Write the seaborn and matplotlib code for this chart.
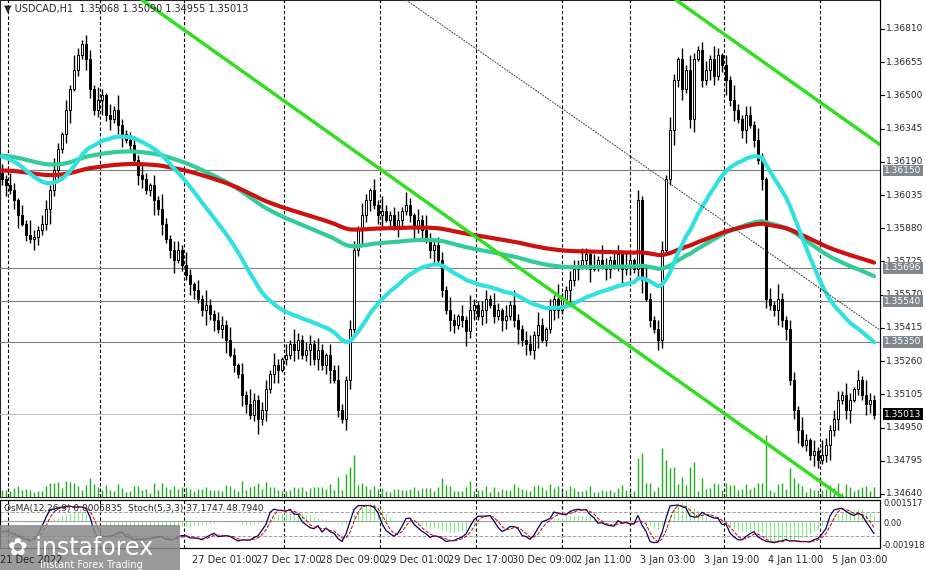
import numpy as np
import pandas as pd
import matplotlib
matplotlib.use("Agg")
import matplotlib.pyplot as plt
import seaborn as sns

# hourly closes (USDCAD H1)
closes = [
    1.3611, 1.3608, 1.3606, 1.3601, 1.3594, 1.3590, 1.3585, 1.3583, 1.3584, 1.3587,
    1.3590, 1.3597, 1.3606, 1.3615, 1.3625, 1.3632, 1.3643, 1.3653, 1.3662, 1.3669,
    1.3674, 1.3667, 1.3653, 1.3643, 1.3648, 1.3650, 1.3641, 1.3639, 1.3643, 1.3636,
    1.3632, 1.3629, 1.3627, 1.3620, 1.3613, 1.3611, 1.3606, 1.3608, 1.3601, 1.3597,
    1.3590, 1.3583, 1.3578, 1.3573, 1.3578, 1.3571, 1.3566, 1.3562, 1.3559, 1.3555,
    1.3550, 1.3552, 1.3548, 1.3545, 1.3541, 1.3543, 1.3536, 1.3529, 1.3524, 1.3520,
    1.3510, 1.3506, 1.3501, 1.3508, 1.3499, 1.3503, 1.3513, 1.3520, 1.3524, 1.3522,
    1.3527, 1.3529, 1.3534, 1.3531, 1.3536, 1.3529, 1.3531, 1.3534, 1.3527, 1.3531,
    1.3524, 1.3529, 1.3522, 1.3517, 1.3503, 1.3499, 1.3517, 1.3541, 1.3578, 1.3587,
    1.3594, 1.3601, 1.3606, 1.3599, 1.3594, 1.3596, 1.3592, 1.3594, 1.3589, 1.3592,
    1.3596, 1.3599, 1.3594, 1.3589, 1.3592, 1.3587, 1.3583, 1.3578, 1.3580, 1.3573,
    1.3559, 1.3550, 1.3545, 1.3543, 1.3547, 1.3545, 1.3540, 1.3550, 1.3552, 1.3547,
    1.3550, 1.3555, 1.3552, 1.3547, 1.3550, 1.3545, 1.3547, 1.3552, 1.3545, 1.3541,
    1.3536, 1.3534, 1.3531, 1.3538, 1.3543, 1.3536, 1.3541, 1.3550, 1.3555, 1.3550,
    1.3555, 1.3559, 1.3564, 1.3569, 1.3571, 1.3573, 1.3576, 1.3569, 1.3571, 1.3573,
    1.3571, 1.3569, 1.3573, 1.3571, 1.3576, 1.3569, 1.3571, 1.3573, 1.3569, 1.3601,
    1.3564, 1.3555, 1.3545, 1.3541, 1.3536, 1.3578, 1.3611, 1.3634, 1.3657, 1.3667,
    1.3653, 1.3662, 1.3639, 1.3667, 1.3671, 1.3657, 1.3662, 1.3667, 1.3659, 1.3669,
    1.3664, 1.3657, 1.3648, 1.3643, 1.3639, 1.3634, 1.3641, 1.3636, 1.3629, 1.3620,
    1.3611, 1.3555, 1.3552, 1.3550, 1.3555, 1.3545, 1.3541, 1.3517, 1.3503, 1.3494,
    1.3487, 1.3489, 1.3482, 1.3484, 1.3480, 1.3482, 1.3487, 1.3494, 1.3499, 1.3508,
    1.3510, 1.3503, 1.3508, 1.3513, 1.3517, 1.3510, 1.3506, 1.3508, 1.3501,
]
first_open = 1.3614
wick_up = [0.0004, 0.0002, 0.0006, 0.0003, 0.0001, 0.0005, 0.0002, 0.0007, 0.0003, 0.0002, 0.0004]
wick_dn = [0.0003, 0.0005, 0.0002, 0.0004, 0.0006, 0.0001, 0.0003, 0.0002, 0.0005, 0.0004, 0.0002, 0.0003, 0.0007]
# moving averages: (span, level before the visible window, colour)
ma_specs = [(150, 1.3622, "#33cc99"), (220, 1.3615, "#cc1111"), (40, 1.3622, "#33e0e0")]

hlines = [1.36150, 1.35696, 1.35540, 1.35350]
last_price = 1.35013
price_ticks = [1.36810, 1.36655, 1.36500, 1.36345, 1.36190, 1.36035, 1.35880, 1.35725,
               1.35570, 1.35415, 1.35260, 1.35105, 1.34950, 1.34795, 1.34640]
time_labels = ["27 Dec 01:00", "27 Dec 17:00", "28 Dec 09:00", "29 Dec 01:00", "29 Dec 17:00",
               "30 Dec 09:00", "2 Jan 11:00", "3 Jan 03:00", "3 Jan 19:00", "4 Jan 11:00", "5 Jan 03:00"]
time_label_bars = [47.5, 63.5, 79.5, 95.5, 111.5, 127.5, 143.5, 159.5, 175.5, 191.5, 207.5]
sep_bars = [1.5, 24.5, 45.5, 70.5, 94.5, 118.5, 140, 157, 180.5, 204.5]
# trend lines as (bar, price) pairs
channel_lines = [((35, 1.36945), (210, 1.34626)), ((168.5, 1.36945), (219.5, 1.3627))]
thin_line = ((101, 1.36945), (219.5, 1.35405))

df = pd.DataFrame({"close": closes})
df["open"] = [first_open] + closes[:-1]
n = len(df)
df["high"] = df[["open", "close"]].max(axis=1) + [wick_up[i % len(wick_up)] for i in range(n)]
df["low"] = df[["open", "close"]].min(axis=1) - [wick_dn[i % len(wick_dn)] for i in range(n)]
df["bar"] = np.arange(n)
for j, (span, seed, _) in enumerate(ma_specs):
    s = pd.concat([pd.Series([seed]), df["close"]], ignore_index=True)
    df[f"ma{j}"] = s.ewm(span=span, adjust=False).mean().iloc[1:].values
df["vol"] = (df["high"] - df["low"]) + (df["close"] - df["open"]).abs()

macd = df["close"].ewm(span=12).mean() - df["close"].ewm(span=26).mean()
osma = macd - macd.rolling(9, min_periods=1).mean()
lo5 = df["low"].rolling(5, min_periods=1).min()
hi5 = df["high"].rolling(5, min_periods=1).max()
k = 100 * (df["close"] - lo5).rolling(3, min_periods=1).sum() / (hi5 - lo5).rolling(3, min_periods=1).sum()
d = k.rolling(3, min_periods=1).mean()

sns.set_style("white")
plt.rcParams["font.family"] = ["DejaVu Sans"]

W, H = 926, 570
fig = plt.figure(figsize=(W / 100, H / 100), dpi=100)
ax = fig.add_axes([0, 1 - 497 / H, 880 / W, 497 / H])
sub = fig.add_axes([0, 1 - 548 / H, 880 / W, 48 / H])

ylo, yhi = 1.34626, 1.36945
ax.set_xlim(-0.5, 219.5)
ax.set_ylim(ylo, yhi)

# volume
axv = ax.twinx()
axv.set_ylim(0, df["vol"].max() * 8)
axv.vlines(df["bar"], 0, df["vol"], color="#22aa22", lw=1)
axv.set_yticks([])
ax.set_zorder(axv.get_zorder() + 1)
ax.patch.set_visible(False)

for b in sep_bars:
    ax.axvline(b, color="black", ls=(0, (3, 2)), lw=0.8)
    sub.axvline(b, color="black", ls=(0, (3, 2)), lw=0.8)

for h in hlines:
    ax.axhline(h, color="#808080", lw=0.8)
ax.axhline(last_price, color="#c0c0c0", lw=0.8)

# candles
ax.vlines(df["bar"], df["low"], df["high"], color="black", lw=1, zorder=3)
for _, r in df.iterrows():
    up = r["close"] >= r["open"]
    bot = min(r["open"], r["close"])
    ht = max(abs(r["close"] - r["open"]), 0.00003)
    ax.add_patch(plt.Rectangle((r["bar"] - 0.35, bot), 0.7, ht, facecolor="white" if up else "black",
                               edgecolor="black", lw=0.7, zorder=4))

for j, (_, _, col) in enumerate(ma_specs):
    sns.lineplot(data=df, x="bar", y=f"ma{j}", ax=ax, color=col, lw=3, zorder=5)

for (x0, y0), (x1, y1) in channel_lines:
    ax.plot([x0, x1], [y0, y1], color="#33dd22", lw=2.5, zorder=6)
ax.plot([thin_line[0][0], thin_line[1][0]], [thin_line[0][1], thin_line[1][1]],
        color="#335533", lw=0.7, ls=(0, (2, 1)), zorder=6)

ax.set_xticks([])
ax.set_yticks([])
ax.set_xlabel("")
ax.set_ylabel("")
for s in ["top", "left", "bottom"]:
    ax.spines[s].set_visible(False)
ax.spines["right"].set_color("black")

# right price scale
for p in price_ticks:
    yy = (1 - 497 / H) + (p - ylo) / (yhi - ylo) * 497 / H
    fig.text(886 / W, yy, f"{p:.5f}", fontsize=6.5, va="center", ha="left")
    fig.add_artist(plt.Line2D([880 / W, 884 / W], [yy, yy], color="black", lw=0.8))
for h, fc in [(hh, "#808890") for hh in hlines] + [(last_price, "black")]:
    yy = (1 - 497 / H) + (h - ylo) / (yhi - ylo) * 497 / H
    fig.text(884 / W, yy, f"{h:.5f}", fontsize=6.5, va="center", ha="left", color="white",
             bbox=dict(boxstyle="square,pad=0.15", fc=fc, ec="none"))

fig.text(4 / W, 1 - 9 / H, "▼ USDCAD,H1  1.35068 1.35090 1.34955 1.35013", fontsize=7, va="center")

# oscillator
sub.set_xlim(-0.5, 219.5)
sub.set_ylim(-0.001918, 0.001517)
sub.bar(df["bar"], osma, width=0.6, color="#22ee22", zorder=2)
sub.axhline(0, color="#a0a0a0", lw=0.8)
st = sub.twinx()
st.set_ylim(-10, 110)
st.axhline(80, color="#a0a0a0", lw=0.7, ls="--")
st.axhline(20, color="#a0a0a0", lw=0.7, ls="--")
st.plot(df["bar"], k, color="#000066", lw=0.9)
st.plot(df["bar"], d, color="#cc0000", lw=0.7, ls="--")
for a in (sub, st):
    a.set_xticks([])
    a.set_yticks([])
    for s in a.spines.values():
        s.set_color("black")
        s.set_linewidth(0.8)
fig.text(4 / W, 1 - 508 / H, "OsMA(12,26,9) 0.0005835  Stoch(5,3,3) 37.1747 48.7940", fontsize=6.5, va="center")
for txt, yp in [("0.001517", 504), ("0.00", 523), ("-0.001918", 545)]:
    fig.text(883 / W, 1 - yp / H, txt, fontsize=6, va="center", ha="left")

for lab, b in zip(time_labels, time_label_bars):
    fig.text((4 * b + 2) / W, 1 - 560 / H, lab, fontsize=7, va="center", ha="left")
fig.text(0, 1 - 560 / H, "21 Dec 2022", fontsize=7, va="center", ha="left")

# watermark
fig.add_artist(plt.Rectangle((0, 0), 180 / W, 45 / H, transform=fig.transFigure, fc="#888888", ec="none", alpha=0.85))
fig.text(8 / W, 22 / H, "✿ instaforex", fontsize=17, color="white", va="center")
fig.text(40 / W, 5 / H, "Instant Forex Trading", fontsize=7, color="white", va="center")

fig.savefig("out.png", dpi=100)
